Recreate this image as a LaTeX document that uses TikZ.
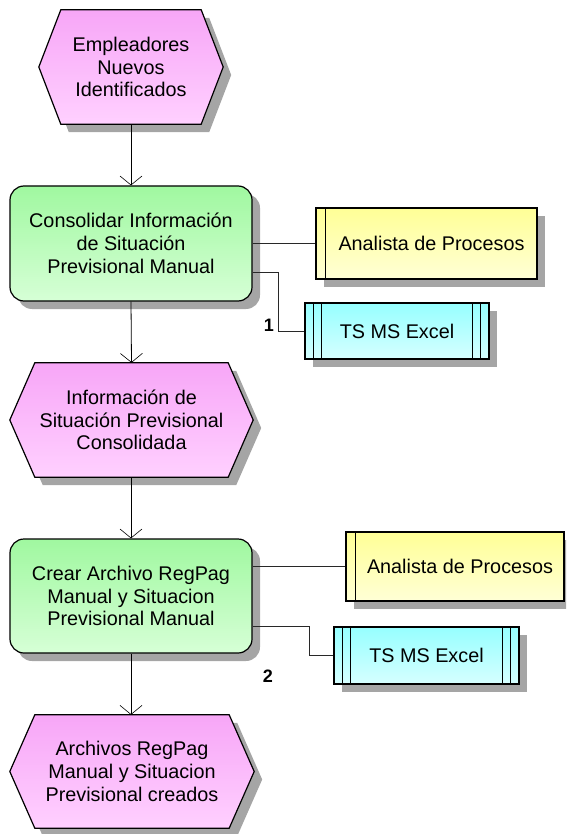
\documentclass[tikz,border=0pt]{standalone}
\usepackage{fontspec}
\setmainfont{Liberation Sans}
\usetikzlibrary{calc,backgrounds,shadows,arrows.meta}
\definecolor{pinkT}{RGB}{247,166,247}
\definecolor{pinkB}{RGB}{255,208,255}
\definecolor{greenT}{RGB}{160,248,160}
\definecolor{greenB}{RGB}{214,255,214}
\definecolor{yelT}{RGB}{255,255,150}
\definecolor{yelB}{RGB}{255,255,214}
\definecolor{cyanT}{RGB}{150,255,255}
\definecolor{cyanB}{RGB}{214,255,255}
\definecolor{shadowc}{RGB}{165,165,165}
\definecolor{linec}{RGB}{40,40,40}
\tikzset{
  txt/.style={font=\fontsize{19.8}{22.8}\selectfont, align=center, inner sep=0pt},
  evt/.style={txt},
  func/.style={txt, draw=black, line width=1.2pt, rounded corners=14pt,
    top color=greenT, bottom color=greenB,
    drop shadow={shadow xshift=8pt, shadow yshift=-8pt, fill=shadowc, opacity=1}},
  rolebox/.style={txt, draw=black, line width=1.2pt,
    top color=yelT, bottom color=yelB,
    drop shadow={shadow xshift=8pt, shadow yshift=-8pt, fill=shadowc, opacity=1}},
  sysbox/.style={txt, draw=black, line width=1.2pt,
    top color=cyanT, bottom color=cyanB,
    drop shadow={shadow xshift=8pt, shadow yshift=-8pt, fill=shadowc, opacity=1}},
  flow/.style={draw=black, line width=0.8pt, -{Straight Barb[length=9pt,width=22pt,line width=0.6pt]}},
  conn/.style={draw=linec, line width=0.8pt},
  numlbl/.style={font=\bfseries\fontsize{18}{20}\selectfont, inner sep=0pt},
}
\newcommand{\hexshape}[2]{%
  \fill[shadowc] ($(#1.west)+(8,8)$) -- ($(#1.north west)+(#2+8,8)$) -- ($(#1.north east)+(-#2+8,8)$) -- ($(#1.east)+(8,8)$) -- ($(#1.south east)+(-#2+8,8)$) -- ($(#1.south west)+(#2+8,8)$) -- cycle;
  \path[draw=black, line width=1.2pt, top color=pinkT, bottom color=pinkB] (#1.west) -- ($(#1.north west)+(#2,0)$) -- ($(#1.north east)+(-#2,0)$) -- (#1.east) -- ($(#1.south east)+(-#2,0)$) -- ($(#1.south west)+(#2,0)$) -- cycle;}
\begin{document}
\begin{tikzpicture}[x=1pt,y=-1pt]
\useasboundingbox (0,0) rectangle (566,834);
\clip (0,0) rectangle (566,834);
% events (text nodes, shapes drawn on background)
\node[evt, minimum width=184pt, minimum height=114pt] (e1) at (131,67) {Empleadores\\Nuevos\\Identificados};
\node[evt, minimum width=243pt, minimum height=114pt] (e2) at (131.5,420) {Información de\\Situación Previsional\\Consolidada};
\node[evt, minimum width=244pt, minimum height=113pt] (e3) at (132,771.5) {Archivos RegPag\\Manual y Situacion\\Previsional creados};
\begin{pgfonlayer}{background}
\hexshape{e1}{22}
\hexshape{e2}{25}
\hexshape{e3}{25}
\end{pgfonlayer}
% functions
\node[func, minimum width=242pt, minimum height=115pt] (f1) at (131,243.5) {Consolidar Información\\de Situación\\Previsional Manual};
\node[func, minimum width=242pt, minimum height=114pt] (f2) at (131,596) {Crear Archivo RegPag\\Manual y Situacion\\Previsional Manual};
% roles
\node[rolebox, minimum width=221pt, minimum height=71pt] (a1) at (426.5,243.5) {\hspace*{10pt}Analista de Procesos};
\node[rolebox, minimum width=218pt, minimum height=69pt] (a2) at (455,566.5) {\hspace*{10pt}Analista de Procesos};
\draw[line width=1.2pt] ($(a1.north west)+(10,0)$) -- ($(a1.south west)+(10,0)$);
\draw[line width=1.2pt] ($(a2.north west)+(10,0)$) -- ($(a2.south west)+(10,0)$);
% systems
\node[sysbox, minimum width=184pt, minimum height=56pt] (t1) at (397,331) {TS MS Excel};
\node[sysbox, minimum width=185pt, minimum height=57pt] (t2) at (426.5,655.5) {TS MS Excel};
\foreach \n in {t1,t2}{
  \draw[line width=1.2pt] ($(\n.north west)+(9,0)$) -- ($(\n.south west)+(9,0)$);
  \draw[line width=1.2pt] ($(\n.north west)+(17,0)$) -- ($(\n.south west)+(17,0)$);
  \draw[line width=1.2pt] ($(\n.north east)+(-9,0)$) -- ($(\n.south east)+(-9,0)$);
  \draw[line width=1.2pt] ($(\n.north east)+(-17,0)$) -- ($(\n.south east)+(-17,0)$);
}
% flow arrows
\draw[flow] (e1.south) -- (f1.north);
\draw[flow] (f1.south) -- (e2.north);
\draw[flow] ($(e2.south)+(-0.5,0)$) -- (f2.north);
\draw[flow] (f2.south) -- ($(e3.north)+(-1,0)$);
% assignments
\draw[conn] (f1.east) -- (a1.west);
\coordinate (k1) at (278,272);
\draw[conn] (f1.east |- k1) -- (k1) -- (k1 |- t1.west) -- (t1.west);
\draw[conn] (f2.east |- a2.west) -- (a2.west);
\coordinate (k2) at (309,626);
\draw[conn] (f2.east |- k2) -- (k2) -- (k2 |- t2.west) -- (t2.west);
% numbers
\node[numlbl] (n1) at (269,325) {1};
\node[numlbl] (n2) at (268,676) {2};
\end{tikzpicture}
\end{document}
